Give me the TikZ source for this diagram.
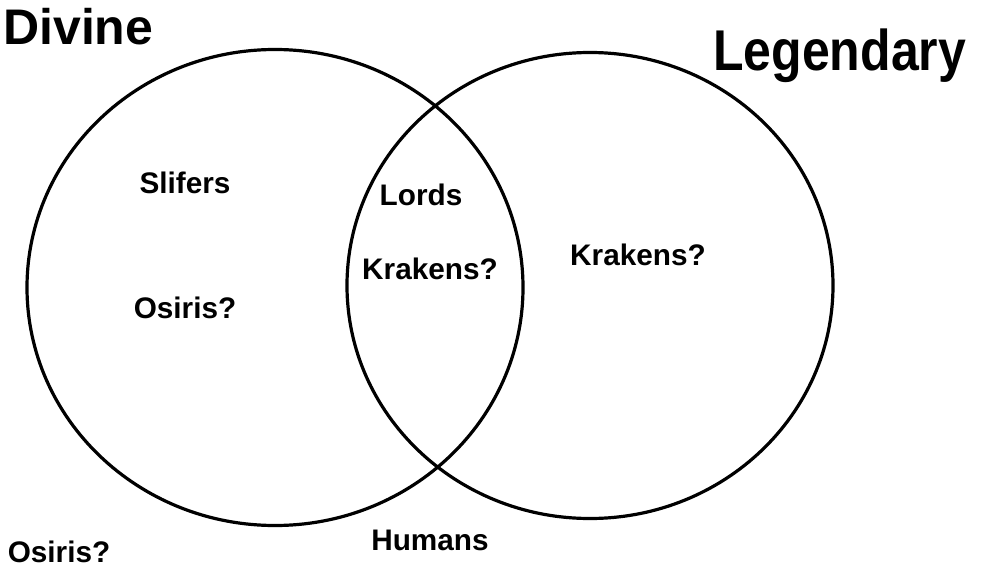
\documentclass[tikz,border=0pt]{standalone}
\usepackage{fontspec}
\setmainfont{Liberation Sans}

\tikzset{every node/.style={inner sep=0pt, font=\fontsize{22.3}{26}\selectfont\bfseries},
  title/.style={font=\fontsize{37.5}{42}\selectfont\bfseries},
  ring/.style={line width=2.4pt}}

\begin{document}
\begin{tikzpicture}[x=0.75pt, y=-0.75pt]
  \useasboundingbox (0,0) rectangle (982,567);
  \draw[ring] (275,287.5) ellipse [x radius=248, y radius=238];
  \draw[ring] (590,285.5) ellipse [x radius=243, y radius=233];
  \node[title, anchor=base west] (divine) at (3,45) {Divine};
  \node[title, anchor=base west] (legendary) at (713,70) {\scalebox{1}[1.15]{Legendary}};
  \node[anchor=base] (slifers) at (185,193) {Slifers};
  \node[anchor=base] (osirisin) at (185,318) {Osiris?};
  \node[anchor=base] (lords) at (421,205) {Lords};
  \node[anchor=base] (krakensmid) at (430,279) {Krakens?};
  \node[anchor=base] (krakensleg) at (638,265) {Krakens?};
  \node[anchor=base] (humans) at (430,550) {Humans};
  \node[anchor=base] (osirisout) at (59,562) {Osiris?};
\end{tikzpicture}
\end{document}
